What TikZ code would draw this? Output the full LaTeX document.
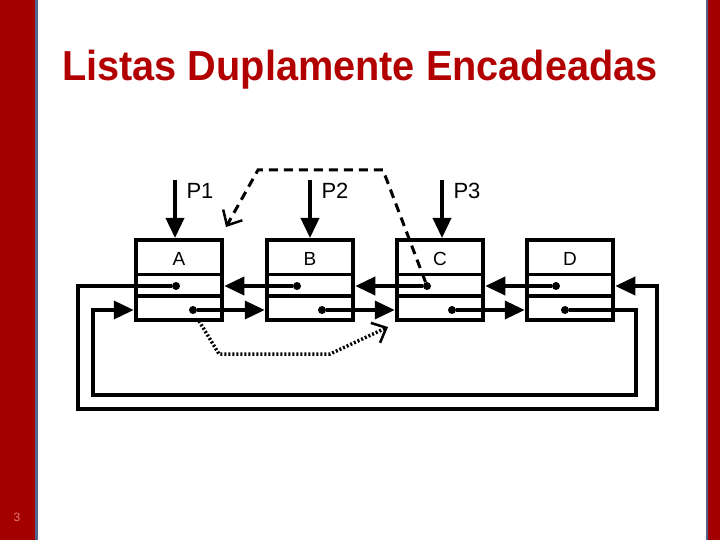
\documentclass[tikz,border=0pt]{standalone}
\usepackage{fontspec}
\setmainfont{Liberation Sans}
\usetikzlibrary{arrows.meta,calc}
\definecolor{barred}{RGB}{165,0,0}
\definecolor{barblue}{RGB}{80,100,140}
\definecolor{titlered}{RGB}{178,0,0}
\definecolor{numpink}{RGB}{230,120,120}
\tikzset{
  cell/.style={draw=black,line width=4.5pt,fill=white,minimum width=86pt,minimum height=80pt,inner sep=0pt},
  lbl/.style={font=\fontsize{19}{19}\selectfont},
  plbl/.style={font=\fontsize{22}{22}\selectfont,anchor=west},
  dotn/.style={circle,fill=black,inner sep=0pt,minimum size=8pt},
  link/.style={line width=3.6pt,-{Triangle[length=20pt,width=18pt]}},
  dashlink/.style={line width=3pt,dash pattern=on 9pt off 6pt,-{Straight Barb[length=12pt,width=22pt,line width=2.5pt]}},
  dotlink/.style={line width=3.5pt,dash pattern=on 2pt off 2pt,-{Straight Barb[length=12pt,width=22pt,line width=2.5pt]}}
}
\begin{document}
\begin{tikzpicture}[x=1pt,y=-1pt]
\useasboundingbox (0,0) rectangle (720,540);
% side bars
\fill[barred] (0,0) rectangle (35,540);
\fill[barblue] (35,0) rectangle (37.5,540);
\fill[barred] (708,0) rectangle (720,540);
\fill[barblue] (705.5,0) rectangle (708,540);
\node[text=numpink,font=\fontsize{12}{12}\selectfont] (num) at (17,517) {3};
% title
\node[text=titlered,font=\fontsize{42}{42}\selectfont\bfseries,xscale=0.945] (title) at (360,70) {Listas Duplamente Encadeadas};
% boxes
\foreach \n/\x in {A/179,B/310,C/440,D/570}{
  \node[cell] (\n) at (\x,280) {};
  \node[lbl] (\n l) at (\x,259) {\n};
  \draw[line width=3pt] ($(\n.north west)+(0,37)$) -- ($(\n.north east)+(0,37)$);
  \draw[line width=4pt] ($(\n.north west)+(0,58)$) -- ($(\n.north east)+(0,58)$);
}
% dots: prev (p) and next (n)
\node[dotn] (Ap) at (176,286) {};
\node[dotn] (An) at (193,310) {};
\node[dotn] (Bp) at (297,286) {};
\node[dotn] (Bn) at (322,310) {};
\node[dotn] (Cp) at (427,286) {};
\node[dotn] (Cn) at (452,310) {};
\node[dotn] (Dp) at (556,286) {};
\node[dotn] (Dn) at (565,310) {};
% pointer arrows
\foreach \p/\n/\x in {P1/A/175,P2/B/310,P3/C/442}{
  \coordinate (\p top) at (\x,180);
  \draw[link] (\p top) -- (\x,238);
  \node[plbl] (\p) at (\x+8,191) {\p};
}
% neighbour links
\draw[link] (Bp) -- (A.east |- Bp);
\draw[link] (Cp) -- (B.east |- Cp);
\draw[link] (Dp) -- (C.east |- Dp);
\draw[link] (An) -- (B.west |- An);
\draw[link] (Bn) -- (C.west |- Bn);
\draw[link] (Cn) -- (D.west |- Cn);
% circular links
\coordinate (o1) at (78,286);
\coordinate (o2) at (78,409);
\coordinate (o3) at (657,409);
\coordinate (o4) at (657,286);
\draw[link] (Ap) -- (o1) -- (o2) -- (o3) -- (o4) -- (D.east |- o4);
\coordinate (i1) at (636,310);
\coordinate (i2) at (636,395);
\coordinate (i3) at (93,395);
\coordinate (i4) at (93,310);
\draw[link] (Dn) -- (i1) -- (i2) -- (i3) -- (i4) -- (A.west |- i4);
% dashed old link
\coordinate (d1) at (383,170);
\coordinate (d2) at (258,170);
\coordinate (d3) at (226,227);
\draw[dashlink] (Cp) -- (d1) -- (d2) -- (d3);
% dotted new link
\coordinate (s0) at (199,321);
\coordinate (s1) at (219,354);
\coordinate (s2) at (330,354);
\coordinate (s3) at (388,327);
\draw[dotlink] (s0) -- (s1) -- (s2) -- (s3);
\end{tikzpicture}
\end{document}
